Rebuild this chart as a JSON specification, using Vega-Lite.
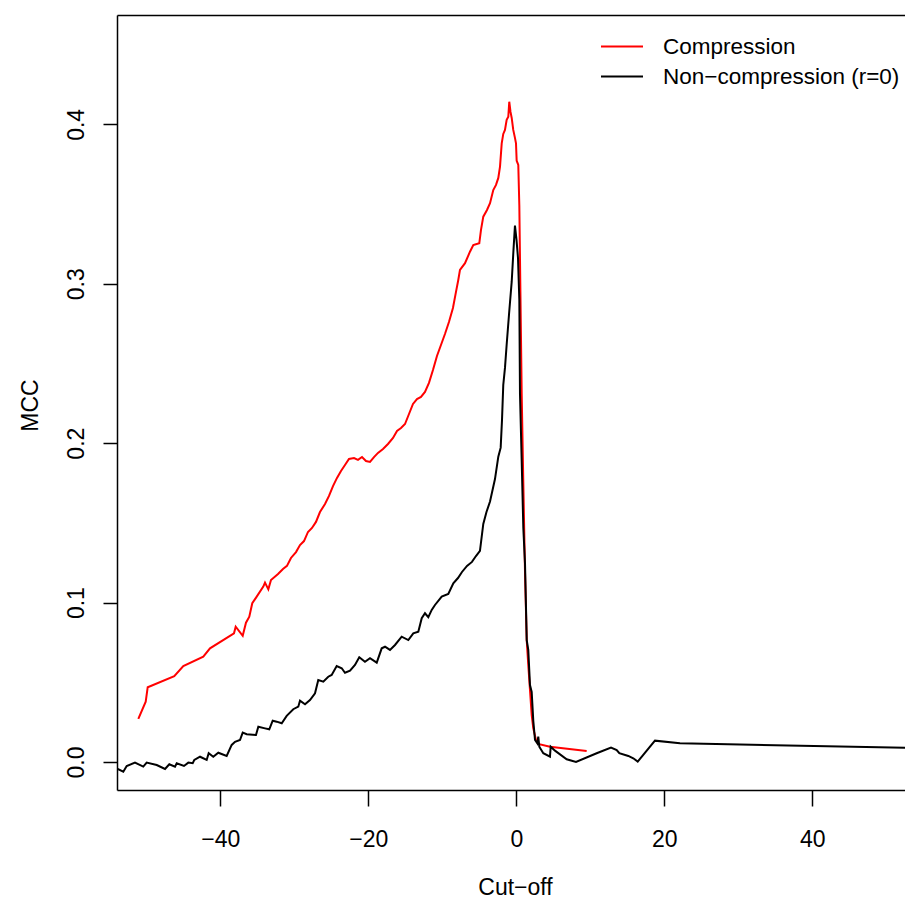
{
 "$schema": "https://vega.github.io/schema/vega-lite/v6.json",
 "width": 788, "height": 775,
 "autosize": {"type": "none"},
 "padding": {"left": 117, "top": 15, "right": 0, "bottom": 116},
 "background": "white",
 "config": {"view": {"stroke": null}, "font": "Liberation Sans",
   "axis": {"grid": false, "domainColor": "black", "domainWidth": 1.5, "tickColor": "black", "tickWidth": 1.5, "labelColor": "black", "labelFontSize": 23, "labelFont": "Liberation Sans", "titleFont": "Liberation Sans", "titleFontSize": 23, "titleFontWeight": "normal", "titleColor": "black", "labelOverlap": false, "labelFlush": false}},
 "datasets": {
  "d": [
   {"s":"Compression","x":-51.08,"y":0.0270},{"s":"Compression","x":-50.08,"y":0.0378},{"s":"Compression","x":-49.81,"y":0.0469},{"s":"Compression","x":-46.22,"y":0.0538},{"s":"Compression","x":-45.00,"y":0.0602},{"s":"Compression","x":-42.30,"y":0.0661},{"s":"Compression","x":-41.39,"y":0.0713},{"s":"Compression","x":-38.15,"y":0.0807},{"s":"Compression","x":-37.92,"y":0.0849},{"s":"Compression","x":-36.97,"y":0.0792},{"s":"Compression","x":-36.53,"y":0.0874},{"s":"Compression","x":-36.08,"y":0.0912},{"s":"Compression","x":-35.68,"y":0.0996},{"s":"Compression","x":-35.08,"y":0.1037},{"s":"Compression","x":-34.19,"y":0.1100},{"s":"Compression","x":-33.96,"y":0.1125},{"s":"Compression","x":-33.51,"y":0.1083},{"s":"Compression","x":-33.15,"y":0.1142},{"s":"Compression","x":-32.20,"y":0.1179},{"s":"Compression","x":-31.53,"y":0.1211},{"s":"Compression","x":-30.99,"y":0.1230},{"s":"Compression","x":-30.45,"y":0.1280},{"s":"Compression","x":-29.77,"y":0.1317},{"s":"Compression","x":-29.23,"y":0.1361},{"s":"Compression","x":-28.69,"y":0.1386},{"s":"Compression","x":-28.15,"y":0.1443},{"s":"Compression","x":-27.61,"y":0.1468},{"s":"Compression","x":-27.07,"y":0.1506},{"s":"Compression","x":-26.53,"y":0.1568},{"s":"Compression","x":-25.85,"y":0.1619},{"s":"Compression","x":-25.31,"y":0.1669},{"s":"Compression","x":-24.77,"y":0.1731},{"s":"Compression","x":-24.23,"y":0.1782},{"s":"Compression","x":-23.69,"y":0.1826},{"s":"Compression","x":-23.15,"y":0.1863},{"s":"Compression","x":-22.61,"y":0.1901},{"s":"Compression","x":-21.93,"y":0.1907},{"s":"Compression","x":-21.39,"y":0.1895},{"s":"Compression","x":-20.85,"y":0.1913},{"s":"Compression","x":-20.31,"y":0.1888},{"s":"Compression","x":-19.77,"y":0.1882},{"s":"Compression","x":-19.23,"y":0.1913},{"s":"Compression","x":-18.69,"y":0.1939},{"s":"Compression","x":-18.01,"y":0.1964},{"s":"Compression","x":-17.34,"y":0.1995},{"s":"Compression","x":-16.66,"y":0.2033},{"s":"Compression","x":-16.12,"y":0.2077},{"s":"Compression","x":-15.58,"y":0.2095},{"s":"Compression","x":-15.04,"y":0.2120},{"s":"Compression","x":-14.50,"y":0.2183},{"s":"Compression","x":-13.96,"y":0.2246},{"s":"Compression","x":-13.42,"y":0.2277},{"s":"Compression","x":-12.88,"y":0.2290},{"s":"Compression","x":-12.34,"y":0.2321},{"s":"Compression","x":-11.80,"y":0.2378},{"s":"Compression","x":-11.26,"y":0.2459},{"s":"Compression","x":-10.72,"y":0.2547},{"s":"Compression","x":-10.18,"y":0.2616},{"s":"Compression","x":-9.64,"y":0.2685},{"s":"Compression","x":-9.10,"y":0.2760},{"s":"Compression","x":-8.56,"y":0.2848},{"s":"Compression","x":-8.15,"y":0.2949},{"s":"Compression","x":-7.84,"y":0.3024},{"s":"Compression","x":-7.61,"y":0.3087},{"s":"Compression","x":-6.93,"y":0.3129},{"s":"Compression","x":-6.26,"y":0.3201},{"s":"Compression","x":-5.81,"y":0.3243},{"s":"Compression","x":-5.00,"y":0.3254},{"s":"Compression","x":-4.77,"y":0.3338},{"s":"Compression","x":-4.46,"y":0.3421},{"s":"Compression","x":-3.96,"y":0.3463},{"s":"Compression","x":-3.55,"y":0.3505},{"s":"Compression","x":-3.11,"y":0.3588},{"s":"Compression","x":-2.74,"y":0.3620},{"s":"Compression","x":-2.43,"y":0.3664},{"s":"Compression","x":-2.20,"y":0.3735},{"s":"Compression","x":-1.97,"y":0.3881},{"s":"Compression","x":-1.76,"y":0.3940},{"s":"Compression","x":-1.53,"y":0.3965},{"s":"Compression","x":-1.30,"y":0.4028},{"s":"Compression","x":-1.08,"y":0.4048},{"s":"Compression","x":-0.95,"y":0.4142},{"s":"Compression","x":-0.78,"y":0.4078},{"s":"Compression","x":-0.62,"y":0.4040},{"s":"Compression","x":-0.41,"y":0.3965},{"s":"Compression","x":-0.18,"y":0.3915},{"s":"Compression","x":-0.04,"y":0.3881},{"s":"Compression","x":0.05,"y":0.3772},{"s":"Compression","x":0.27,"y":0.3745},{"s":"Compression","x":0.41,"y":0.3491},{"s":"Compression","x":0.50,"y":0.3156},{"s":"Compression","x":0.73,"y":0.2309},{"s":"Compression","x":0.95,"y":0.1747},{"s":"Compression","x":1.18,"y":0.1186},{"s":"Compression","x":1.41,"y":0.0762},{"s":"Compression","x":1.62,"y":0.0609},{"s":"Compression","x":1.85,"y":0.0452},{"s":"Compression","x":2.08,"y":0.0295},{"s":"Compression","x":2.30,"y":0.0211},{"s":"Compression","x":2.66,"y":0.0138},{"s":"Compression","x":2.97,"y":0.0113},{"s":"Compression","x":4.55,"y":0.0096},{"s":"Compression","x":9.51,"y":0.0069},
   {"s":"Non−compression (r=0)","x":-54.5,"y":-0.0030},{"s":"Non−compression (r=0)","x":-53.11,"y":-0.0061},{"s":"Non−compression (r=0)","x":-52.65,"y":-0.0025},{"s":"Non−compression (r=0)","x":-51.53,"y":-0.0004},{"s":"Non−compression (r=0)","x":-50.41,"y":-0.0029},{"s":"Non−compression (r=0)","x":-49.95,"y":-0.0004},{"s":"Non−compression (r=0)","x":-48.59,"y":-0.0019},{"s":"Non−compression (r=0)","x":-47.47,"y":-0.0044},{"s":"Non−compression (r=0)","x":-46.89,"y":-0.0014},{"s":"Non−compression (r=0)","x":-46.12,"y":-0.0029},{"s":"Non−compression (r=0)","x":-45.89,"y":-0.0008},{"s":"Non−compression (r=0)","x":-44.91,"y":-0.0025},{"s":"Non−compression (r=0)","x":-44.32,"y":-0.0004},{"s":"Non−compression (r=0)","x":-43.73,"y":-0.0008},{"s":"Non−compression (r=0)","x":-43.51,"y":0.0013},{"s":"Non−compression (r=0)","x":-42.74,"y":0.0033},{"s":"Non−compression (r=0)","x":-41.84,"y":0.0013},{"s":"Non−compression (r=0)","x":-41.57,"y":0.0055},{"s":"Non−compression (r=0)","x":-40.95,"y":0.0033},{"s":"Non−compression (r=0)","x":-40.27,"y":0.0058},{"s":"Non−compression (r=0)","x":-39.14,"y":0.0038},{"s":"Non−compression (r=0)","x":-38.46,"y":0.0107},{"s":"Non−compression (r=0)","x":-38.01,"y":0.0127},{"s":"Non−compression (r=0)","x":-37.34,"y":0.0138},{"s":"Non−compression (r=0)","x":-36.97,"y":0.0184},{"s":"Non−compression (r=0)","x":-36.43,"y":0.0174},{"s":"Non−compression (r=0)","x":-35.18,"y":0.0169},{"s":"Non−compression (r=0)","x":-34.86,"y":0.0221},{"s":"Non−compression (r=0)","x":-33.96,"y":0.0211},{"s":"Non−compression (r=0)","x":-33.38,"y":0.0205},{"s":"Non−compression (r=0)","x":-32.92,"y":0.0259},{"s":"Non−compression (r=0)","x":-32.38,"y":0.0253},{"s":"Non−compression (r=0)","x":-31.70,"y":0.0243},{"s":"Non−compression (r=0)","x":-31.03,"y":0.0289},{"s":"Non−compression (r=0)","x":-30.14,"y":0.0331},{"s":"Non−compression (r=0)","x":-29.46,"y":0.0347},{"s":"Non−compression (r=0)","x":-29.23,"y":0.0385},{"s":"Non−compression (r=0)","x":-28.55,"y":0.0362},{"s":"Non−compression (r=0)","x":-27.88,"y":0.0389},{"s":"Non−compression (r=0)","x":-27.20,"y":0.0431},{"s":"Non−compression (r=0)","x":-26.76,"y":0.0514},{"s":"Non−compression (r=0)","x":-26.08,"y":0.0504},{"s":"Non−compression (r=0)","x":-25.41,"y":0.0535},{"s":"Non−compression (r=0)","x":-24.95,"y":0.0546},{"s":"Non−compression (r=0)","x":-24.27,"y":0.0602},{"s":"Non−compression (r=0)","x":-23.59,"y":0.0588},{"s":"Non−compression (r=0)","x":-23.15,"y":0.0560},{"s":"Non−compression (r=0)","x":-22.47,"y":0.0573},{"s":"Non−compression (r=0)","x":-21.80,"y":0.0609},{"s":"Non−compression (r=0)","x":-21.22,"y":0.0657},{"s":"Non−compression (r=0)","x":-20.45,"y":0.0629},{"s":"Non−compression (r=0)","x":-19.77,"y":0.0651},{"s":"Non−compression (r=0)","x":-18.86,"y":0.0623},{"s":"Non−compression (r=0)","x":-18.19,"y":0.0713},{"s":"Non−compression (r=0)","x":-17.74,"y":0.0723},{"s":"Non−compression (r=0)","x":-17.07,"y":0.0703},{"s":"Non−compression (r=0)","x":-16.39,"y":0.0734},{"s":"Non−compression (r=0)","x":-15.49,"y":0.0786},{"s":"Non−compression (r=0)","x":-14.59,"y":0.0765},{"s":"Non−compression (r=0)","x":-13.92,"y":0.0807},{"s":"Non−compression (r=0)","x":-13.24,"y":0.0817},{"s":"Non−compression (r=0)","x":-12.78,"y":0.0902},{"s":"Non−compression (r=0)","x":-12.34,"y":0.0933},{"s":"Non−compression (r=0)","x":-11.89,"y":0.0908},{"s":"Non−compression (r=0)","x":-11.43,"y":0.0954},{"s":"Non−compression (r=0)","x":-10.99,"y":0.0985},{"s":"Non−compression (r=0)","x":-10.08,"y":0.1037},{"s":"Non−compression (r=0)","x":-9.19,"y":0.1054},{"s":"Non−compression (r=0)","x":-8.51,"y":0.1121},{"s":"Non−compression (r=0)","x":-7.88,"y":0.1154},{"s":"Non−compression (r=0)","x":-7.34,"y":0.1192},{"s":"Non−compression (r=0)","x":-6.66,"y":0.1230},{"s":"Non−compression (r=0)","x":-5.99,"y":0.1255},{"s":"Non−compression (r=0)","x":-5.45,"y":0.1292},{"s":"Non−compression (r=0)","x":-4.91,"y":0.1324},{"s":"Non−compression (r=0)","x":-4.46,"y":0.1493},{"s":"Non−compression (r=0)","x":-4.03,"y":0.1568},{"s":"Non−compression (r=0)","x":-3.55,"y":0.1634},{"s":"Non−compression (r=0)","x":-2.88,"y":0.1775},{"s":"Non−compression (r=0)","x":-2.43,"y":0.1915},{"s":"Non−compression (r=0)","x":-2.11,"y":0.1972},{"s":"Non−compression (r=0)","x":-1.93,"y":0.2146},{"s":"Non−compression (r=0)","x":-1.76,"y":0.2365},{"s":"Non−compression (r=0)","x":-1.53,"y":0.2472},{"s":"Non−compression (r=0)","x":-1.30,"y":0.2619},{"s":"Non−compression (r=0)","x":-0.99,"y":0.2804},{"s":"Non−compression (r=0)","x":-0.62,"y":0.3013},{"s":"Non−compression (r=0)","x":-0.38,"y":0.3212},{"s":"Non−compression (r=0)","x":-0.18,"y":0.3365},{"s":"Non−compression (r=0)","x":0.03,"y":0.3275},{"s":"Non−compression (r=0)","x":0.23,"y":0.3162},{"s":"Non−compression (r=0)","x":0.41,"y":0.2898},{"s":"Non−compression (r=0)","x":0.50,"y":0.2309},{"s":"Non−compression (r=0)","x":0.73,"y":0.1888},{"s":"Non−compression (r=0)","x":0.95,"y":0.1468},{"s":"Non−compression (r=0)","x":1.18,"y":0.1242},{"s":"Non−compression (r=0)","x":1.41,"y":0.0765},{"s":"Non−compression (r=0)","x":1.62,"y":0.0703},{"s":"Non−compression (r=0)","x":1.85,"y":0.0483},{"s":"Non−compression (r=0)","x":2.08,"y":0.0439},{"s":"Non−compression (r=0)","x":2.30,"y":0.0257},{"s":"Non−compression (r=0)","x":2.53,"y":0.0138},{"s":"Non−compression (r=0)","x":2.84,"y":0.0117},{"s":"Non−compression (r=0)","x":2.97,"y":0.0159},{"s":"Non−compression (r=0)","x":3.11,"y":0.0096},{"s":"Non−compression (r=0)","x":3.65,"y":0.0055},{"s":"Non−compression (r=0)","x":4.55,"y":0.0033},{"s":"Non−compression (r=0)","x":4.65,"y":0.0096},{"s":"Non−compression (r=0)","x":5.23,"y":0.0071},{"s":"Non−compression (r=0)","x":6.81,"y":0.0017},{"s":"Non−compression (r=0)","x":8.07,"y":0.0000},{"s":"Non−compression (r=0)","x":10.86,"y":0.0055},{"s":"Non−compression (r=0)","x":12.80,"y":0.0090},{"s":"Non−compression (r=0)","x":13.57,"y":0.0075},{"s":"Non−compression (r=0)","x":13.92,"y":0.0055},{"s":"Non−compression (r=0)","x":15.14,"y":0.0038},{"s":"Non−compression (r=0)","x":15.81,"y":0.0023},{"s":"Non−compression (r=0)","x":16.41,"y":0.0002},{"s":"Non−compression (r=0)","x":18.74,"y":0.0134},{"s":"Non−compression (r=0)","x":22.12,"y":0.0117},{"s":"Non−compression (r=0)","x":52.53,"y":0.0090},{"s":"Non−compression (r=0)","x":54.5,"y":0.0089}
  ]
 },
 "data": {"name": "d"},
 "layer": [
  {"mark": {"type": "line", "strokeWidth": 2, "clip": true},
   "encoding": {
    "x": {"field": "x", "type": "quantitative", "scale": {"domain": [-53.96, 52.53], "nice": false, "zero": false},
      "axis": {"orient": "bottom", "values": [-40, -20, 0, 20, 40], "tickSize": 16, "labelPadding": 40, "labelBaseline": "alphabetic", "title": "Cut−off", "titleX": 398, "titleY": 104, "titleAnchor": null, "titleAlign": "center", "titleBaseline": "alphabetic"}},
    "y": {"field": "y", "type": "quantitative", "scale": {"domain": [-0.01757, 0.4686], "nice": false, "zero": false},
      "axis": {"values": [0, 0.1, 0.2, 0.3, 0.4], "format": ".1f", "tickSize": 14, "labelAngle": -90, "labelAlign": "center", "labelBaseline": "alphabetic", "labelPadding": 20, "title": "MCC", "titleX": -80, "titleY": 390, "titleAngle": -90, "titleAlign": "center", "titleBaseline": "alphabetic", "titleAnchor": null}},
    "color": {"field": "s", "type": "nominal", "scale": {"domain": ["Compression", "Non−compression (r=0)"], "range": ["#FF0000", "#000000"]},
      "legend": {"orient": "none", "legendX": 493.5, "legendY": 20, "title": null, "symbolType": "M-2,0H2", "symbolSize": 441, "symbolStrokeWidth": 2, "labelFontSize": 22.5, "labelFont": "Liberation Sans", "labelColor": "black", "labelOffset": 29.5, "padding": 0, "rowPadding": 7, "labelLimit": 400}}
   }},
  {"mark": {"type": "line", "opacity": 0},
   "encoding": {
    "x": {"field": "x", "type": "quantitative", "axis": {"orient": "top", "labels": false, "ticks": false, "title": null, "domain": true}},
    "y": {"field": "y", "type": "quantitative"}
   }}
 ],
 "resolve": {"axis": {"x": "independent"}}
}
